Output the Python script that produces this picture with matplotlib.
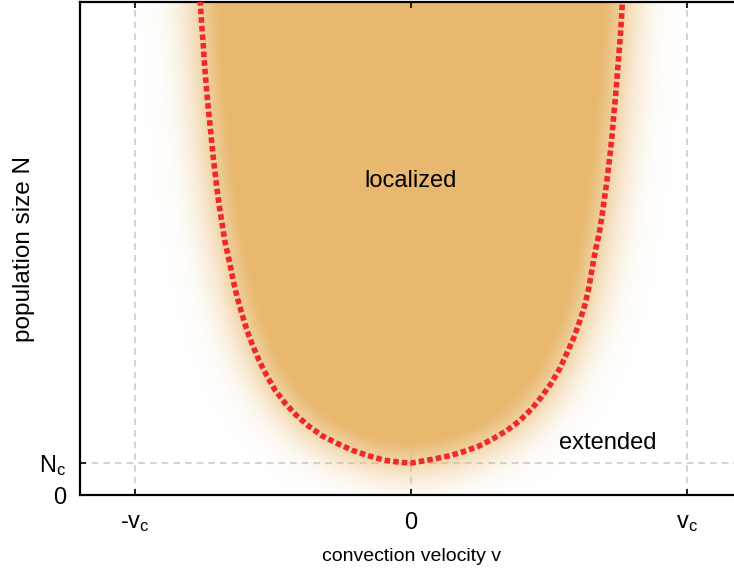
import numpy as np
import matplotlib
matplotlib.use("Agg")
import matplotlib.pyplot as plt
from matplotlib.colors import to_rgb

plt.rcParams['font.family'] = ['Liberation Sans', 'DejaVu Sans']
plt.rcParams['mathtext.default'] = 'regular'

# Phase boundary N*(v), in units of v_c and N_c
boundary_v = [-0.7645, -0.7584, -0.7536, -0.7500, -0.7452, -0.7403, -0.7343,
              -0.7283, -0.7222, -0.7162, -0.7089, -0.7017, -0.6932, -0.6836,
              -0.6739, -0.6679, -0.6558, -0.6437, -0.6292, -0.6135, -0.5954,
              -0.5737, -0.5507, -0.5229, -0.4928, -0.4565, -0.4167, -0.3720,
              -0.3225, -0.2693, -0.2138, -0.1558, -0.0978, -0.0399, 0.0,
              0.0145, 0.0809, 0.1413, 0.1957, 0.2464, 0.2959, 0.3466, 0.3925,
              0.4372, 0.4734, 0.5097, 0.5399, 0.5676, 0.5918, 0.6123, 0.6304,
              0.6437, 0.6534, 0.6630, 0.6703, 0.6824, 0.6920, 0.7005, 0.7090,
              0.7162, 0.7234, 0.7295, 0.7343, 0.7403, 0.7452, 0.7500, 0.7548,
              0.7597, 0.7633, 0.7669]
boundary_N = [15.47, 14.66, 14.14, 13.62, 13.09, 12.57, 12.05,
              11.53, 11.01, 10.49, 9.97, 9.45, 8.93, 8.41,
              7.89, 7.66, 7.19, 6.67, 6.15, 5.68, 5.16,
              4.67, 4.20, 3.73, 3.28, 2.87, 2.50, 2.16,
              1.85, 1.62, 1.40, 1.23, 1.09, 1.02, 1.00,
              1.02, 1.12, 1.23, 1.37, 1.53, 1.75, 2.01, 2.31,
              2.69, 3.07, 3.51, 3.96, 4.48, 4.95, 5.45, 5.94,
              6.43, 6.91, 7.40, 7.71, 8.18, 8.70, 9.22, 9.74,
              10.26, 10.78, 11.30, 11.82, 12.34, 12.86, 13.39, 13.91,
              14.43, 14.95, 15.47]

x_ticks = [-1.0, 0.0, 1.0]
x_ticklabels = ['-v$_c$', '0', 'v$_c$']
y_ticks = [0.0, 1.0]
y_ticklabels = ['0', 'N$_c$']

xlim = (-1.2, 1.2)
ylim = (0.0, 15.41)

fig = plt.figure(figsize=(7.34, 5.76), dpi=100)
ax = fig.add_axes([80 / 734, 81 / 576, 662 / 734, 493 / 576])
ax.set_xlim(*xlim)
ax.set_ylim(*ylim)

# soft-edged localized region: blurred inside-mask of the boundary
nx, ny = 662, 493
gv = np.linspace(xlim[0], xlim[1], nx)
gN = np.linspace(ylim[0], ylim[1], ny)
V, NN = np.meshgrid(gv, gN)
bv = np.array(boundary_v)
bN = np.array(boundary_N)
Nb = np.interp(V, bv, bN)
Nb[(V < bv.min()) | (V > bv.max())] = np.inf
mask = (NN >= Nb).astype(float)

sigma = 24.0
k = np.arange(-int(3 * sigma), int(3 * sigma) + 1)
kern = np.exp(-0.5 * (k / sigma) ** 2)
kern /= kern.sum()
pad = len(k)
padded = np.pad(mask, pad, mode='edge')
blur = np.apply_along_axis(lambda r: np.convolve(r, kern, mode='same'), 1, padded)
blur = np.apply_along_axis(lambda c: np.convolve(c, kern, mode='same'), 0, blur)
blur = blur[pad:-pad, pad:-pad]
alpha = np.clip(1.3 * blur, 0, 1)

fill_rgb = to_rgb('#E8B86E')
img = np.zeros((ny, nx, 4))
img[..., :3] = fill_rgb
img[..., 3] = alpha
ax.imshow(img, extent=(xlim[0], xlim[1], ylim[0], ylim[1]), origin='lower',
          aspect='auto', zorder=1, interpolation='bilinear')

# reference lines
for xv in x_ticks:
    ax.axvline(xv, color='#cccccc', lw=1.2, ls=(0, (4, 3)), zorder=0.5)
ax.axhline(1.0, color='#cccccc', lw=1.2, ls=(0, (4, 3)), zorder=0.5)

# boundary
ax.plot(boundary_v, boundary_N, color='#F02828', lw=4.0,
        ls=(0, (1, 0.55)), dash_capstyle='butt', zorder=3)

ax.text(0.0, 9.81, 'localized', ha='center', va='center', fontsize=17)
ax.text(0.714, 1.63, 'extended', ha='center', va='center', fontsize=17)

ax.set_xticks(x_ticks)
ax.set_xticklabels(x_ticklabels, fontsize=17)
ax.set_yticks(y_ticks)
ax.set_yticklabels(y_ticklabels, fontsize=17)
ax.tick_params(direction='in', length=4, width=1.2, top=True, right=True,
               pad=10)
ax.tick_params(axis='x', pad=12)

for s in ax.spines.values():
    s.set_linewidth(1.6)

ax.set_xlabel('convection velocity v', fontsize=14, labelpad=10)
ax.set_ylabel('population size N', fontsize=17.5, labelpad=3)

fig.savefig('out.png', dpi=100)
